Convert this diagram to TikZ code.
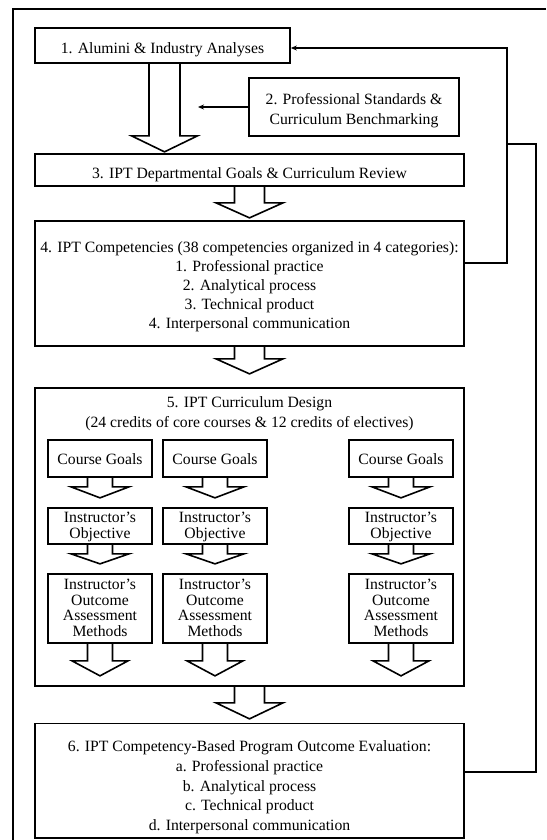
\documentclass[tikz,border=0pt]{standalone}
\usepackage{fontspec}
\setmainfont{Liberation Serif}
\usetikzlibrary{arrows.meta,calc}
\newcommand{\hollowarrow}[5]{\draw[hollow] (#1) ++(-#2,0) -- ++(0,#4) -- ++(#2-#3,0) -- ++(#3,#5) -- ++(#3,-#5) -- ++(#2-#3,0) -- ++(0,-#4);}
\newcommand{\mytop}[1]{\rule{0pt}{#1pt}}
\newcommand{\mybot}[1]{\rule[-#1pt]{0pt}{#1pt}}
\begin{document}
\begin{tikzpicture}[x=1pt,y=-1pt,
  box/.style={draw, line width=1.7pt, inner sep=0pt, align=center, font=\fontsize{15.7}{19}\selectfont},
  sbox/.style={box, minimum width=104pt, font=\fontsize{15.7}{15.8}\selectfont},
  hollow/.style={draw, line width=1.6pt, line join=miter},
  fb/.style={draw, line width=1.6pt},
  tip/.style={-{Stealth[length=6pt,width=5pt]}}]
\useasboundingbox (0,0) rectangle (546,840);
\draw[line width=1.7pt] (546,9) -- (13,9) -- (13,840);

\node[box, minimum width=255pt, minimum height=35pt] (b1) at (162.5,45.5) {\mytop{21}1. Alumini \& Industry Analyses\mybot{4}};
\node[box, minimum width=210pt, minimum height=58pt, font=\fontsize{15.7}{19.4}\selectfont] (b2) at (354,107) {\mytop{19.4}2. Professional Standards \&\\Curriculum Benchmarking\mybot{4}};
\node[box, minimum width=429pt, minimum height=32pt] (b3) at (249.5,170) {\mytop{20.6}3. IPT Departmental Goals \& Curriculum Review\mybot{4}};
\node[box, minimum width=429pt, minimum height=125pt] (b4) at (249.5,283.5) {\mytop{17.6}4. IPT Competencies (38 competencies organized in 4 categories):\\1. Professional practice\\2. Analytical process\\3. Technical product\\4. Interpersonal communication\mybot{4}};
\node[box, minimum width=429pt, minimum height=298pt] (b5) at (249.5,537) {};
\node[align=center, inner sep=0pt, font=\fontsize{15.7}{20}\selectfont] (t5) at (249.5,417.3) {\mytop{12}5. IPT Curriculum Design\\(24 credits of core courses \& 12 credits of electives)\mybot{12}};
\node[box, minimum width=429pt, minimum height=114.4pt, font=\fontsize{15.7}{19.85}\selectfont] (b6) at (249.5,780.8) {\mytop{24.4}6. IPT Competency-Based Program Outcome Evaluation:\\a. Professional practice\\b. Analytical process\\c. Technical product\\d. Interpersonal communication\mybot{4}};

\foreach \i/\x in {1/100,2/215,3/401} {
  \node[sbox, minimum height=37pt] (cg\i) at (\x,458.5) {\mytop{12}Course Goals\mybot{1}};
  \node[sbox, minimum height=36pt] (ob\i) at (\x,526) {\mytop{13.2}Instructor’s\\Objective\mybot{4}};
  \node[sbox, minimum height=69pt] (oc\i) at (\x,608.5) {\mytop{11}Instructor’s\\Outcome\\Assessment\\Methods\mybot{2}};
  \hollowarrow{cg\i.south}{12.5}{29}{9}{11}
  \hollowarrow{ob\i.south}{12.5}{29}{9}{10}
  \hollowarrow{oc\i.south}{12.5}{28}{17}{15}
}

\hollowarrow{[xshift=2pt]b1.south}{15.5}{33}{72}{16}
\hollowarrow{b3.south}{15}{33.5}{16}{15}
\hollowarrow{b4.south}{15}{33.5}{12}{15}
\hollowarrow{b5.south}{15}{33.5}{16}{16}

\coordinate (m2) at (198,107);
\draw[fb,tip] (b2.west) -- (m2);

\coordinate (fbA) at (507,48);
\coordinate (fbB) at (507,263);
\coordinate (fbC) at (536,772);
\coordinate (fbD) at (536,144);
\coordinate (fbE) at (507,144);
\draw[fb,tip] (b4.east |- fbB) -- (fbB) -- (fbA) -- (b1.east |- fbA);
\draw[fb] (b6.east |- fbC) -- (fbC) -- (fbD) -- (fbE);
\end{tikzpicture}
\end{document}
